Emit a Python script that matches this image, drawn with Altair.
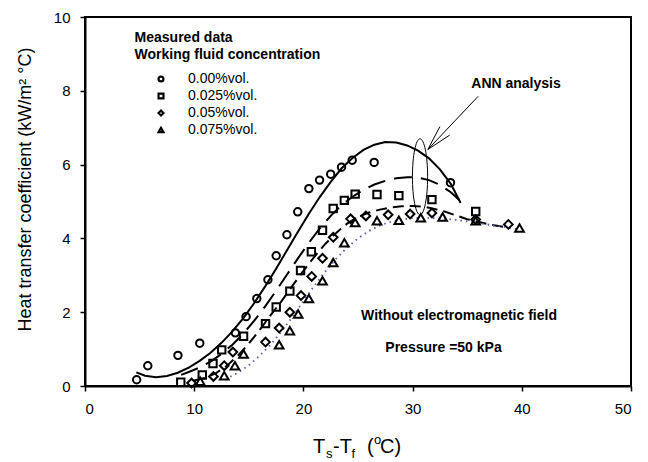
import altair as alt
import pandas as pd

FONT = "Liberation Sans"

# ---------------- measured data ----------------
series_names = ["0.00%vol.", "0.025%vol.", "0.05%vol.", "0.075%vol."]

c0_x = [4.73, 5.75, 8.51, 10.51, 13.77, 14.75, 15.73, 16.75, 17.51, 18.49, 19.48, 20.50, 21.48, 22.50, 23.49, 24.47, 26.48, 33.47]
c0_y = [0.17, 0.55, 0.83, 1.16, 1.44, 1.88, 2.37, 2.88, 3.53, 4.10, 4.72, 5.35, 5.58, 5.74, 5.93, 6.12, 6.06, 5.51]

c1_x = [8.77, 10.74, 11.72, 12.52, 14.52, 16.53, 17.51, 18.76, 19.74, 20.73, 21.75, 22.73, 23.75, 24.74, 26.74, 28.74, 31.77, 35.78]
c1_y = [0.10, 0.30, 0.61, 0.98, 1.35, 1.69, 2.14, 2.57, 3.13, 3.64, 4.22, 4.81, 5.03, 5.20, 5.19, 5.16, 5.05, 4.73]

c2_x = [9.76, 11.76, 12.75, 13.54, 16.53, 17.78, 18.76, 19.78, 20.76, 21.75, 22.73, 24.32, 25.72, 27.76, 29.77, 31.77, 35.78, 38.77]
c2_y = [0.08, 0.26, 0.55, 0.92, 1.19, 1.57, 2.00, 2.45, 2.97, 3.46, 4.03, 4.53, 4.61, 4.64, 4.66, 4.69, 4.51, 4.38]

c3_x = [10.55, 12.75, 13.73, 14.52, 17.78, 18.76, 19.52, 20.50, 21.75, 22.73, 23.75, 24.74, 26.74, 28.74, 30.75, 32.75, 35.78, 39.79]
c3_y = [0.13, 0.28, 0.55, 0.87, 1.12, 1.50, 1.95, 2.37, 2.85, 3.35, 3.88, 4.43, 4.48, 4.49, 4.56, 4.58, 4.48, 4.28]

# ---------------- ANN curves ----------------
a0_x = [4.7, 5.5, 6.5, 7.5, 8.5, 9.5, 10.5, 11.5, 12.5, 13.5, 14.5, 15.5, 16.5, 17.5, 18.5, 19.5, 20.5, 21.5, 22.5, 23.5, 24.5, 25.5, 26.5, 27.5, 28.5, 29.5, 30.5, 31.5, 32.5, 33.5, 34.4]
a0_y = [0.37, 0.28, 0.24, 0.27, 0.36, 0.50, 0.68, 0.90, 1.17, 1.48, 1.84, 2.25, 2.70, 3.18, 3.68, 4.18, 4.67, 5.12, 5.53, 5.90, 6.18, 6.40, 6.54, 6.61, 6.60, 6.52, 6.38, 6.17, 5.87, 5.48, 4.96]

a1_x = [8.8, 9.5, 10.5, 11.5, 12.5, 13.5, 14.5, 15.5, 16.5, 17.5, 18.5, 19.5, 20.5, 21.5, 22.5, 23.5, 24.5, 25.5, 26.5, 27.5, 28.5, 29.5, 30.5, 31.5, 32.5, 33.5, 34.5]
a1_y = [0.30, 0.38, 0.50, 0.66, 0.87, 1.12, 1.42, 1.77, 2.16, 2.58, 3.02, 3.46, 3.88, 4.27, 4.61, 4.90, 5.13, 5.32, 5.46, 5.56, 5.63, 5.66, 5.65, 5.58, 5.45, 5.25, 4.98]

a2_x = [10.0, 11.0, 12.0, 13.0, 14.0, 15.0, 16.0, 17.0, 18.0, 19.0, 20.0, 21.0, 22.0, 23.0, 24.0, 25.0, 26.0, 27.0, 28.0, 29.0, 30.0, 31.0, 32.0, 33.0, 34.0, 35.0, 36.0, 37.0, 38.0, 38.5]
a2_y = [0.15, 0.22, 0.35, 0.55, 0.82, 1.15, 1.52, 1.92, 2.30, 2.72, 3.12, 3.50, 3.85, 4.15, 4.40, 4.58, 4.70, 4.78, 4.84, 4.87, 4.88, 4.86, 4.80, 4.72, 4.62, 4.52, 4.45, 4.38, 4.33, 4.30]

a3_x = [13.3, 14.0, 15.0, 16.0, 17.0, 18.0, 19.0, 20.0, 21.0, 22.0, 23.0, 24.0, 25.0, 26.0, 27.0, 28.0, 29.0, 30.0, 31.0, 32.0, 33.0, 34.0, 35.0, 36.0, 37.0, 38.0, 39.0, 39.8]
a3_y = [0.25, 0.36, 0.56, 0.82, 1.12, 1.48, 1.88, 2.30, 2.72, 3.10, 3.45, 3.75, 4.00, 4.20, 4.35, 4.45, 4.51, 4.55, 4.56, 4.55, 4.53, 4.50, 4.46, 4.42, 4.37, 4.33, 4.28, 4.24]

# ---------------- annotation geometry (data units) ----------------
ellipse_x = [30.68]
ellipse_y = [5.67]
arrow_x1 = [36.0, 31.4, 31.4]
arrow_y1 = [7.85, 6.41, 6.41]
arrow_x2 = [31.4, 32.5, 33.4]
arrow_y2 = [6.41, 7.03, 6.80]

# ---------------- build tables ----------------
pts = pd.concat([
    pd.DataFrame({"x": c0_x, "y": c0_y, "s": series_names[0]}),
    pd.DataFrame({"x": c1_x, "y": c1_y, "s": series_names[1]}),
    pd.DataFrame({"x": c2_x, "y": c2_y, "s": series_names[2]}),
    pd.DataFrame({"x": c3_x, "y": c3_y, "s": series_names[3]}),
], ignore_index=True)

xs = alt.Scale(domain=[0, 50], nice=False)
ys = alt.Scale(domain=[0, 10], nice=False)

X = alt.X("x:Q", scale=xs, axis=alt.Axis(
    values=[0, 10, 20, 30, 40, 50], title=None, grid=False,
    labelFontSize=15, labelFont=FONT, labelColor="black", labelPadding=10,
    tickSize=5, tickColor="black", tickWidth=1.5,
    domainColor="black", domainWidth=2))
Y = alt.Y("y:Q", scale=ys, axis=alt.Axis(
    values=[0, 2, 4, 6, 8, 10], grid=False,
    title="Heat transfer coefficient (kW/m² °C)",
    titleFont=FONT, titleFontSize=18, titleFontWeight="normal", titleColor="black",
    titleX=-60, titleY=172, titleAlign="center", titleBaseline="middle", titleAngle=270,
    labelFontSize=15, labelFont=FONT, labelColor="black", labelPadding=10,
    tickSize=5, tickColor="black", tickWidth=1.5,
    domainColor="black", domainWidth=2))


def curve(xv, yv, dash, color="black", width=2):
    df = pd.DataFrame({"x": xv, "y": yv})
    kw = dict(color=color, strokeWidth=width)
    if dash:
        kw["strokeDash"] = dash
    return alt.Chart(df).mark_line(**kw).encode(x=X, y=Y)


lines = [
    curve(a0_x, a0_y, None),
    curve(a1_x, a1_y, [18, 9]),
    curve(a2_x, a2_y, [11, 6]),
    curve(a3_x, a3_y, [1.5, 4], color="#5a5aa8", width=1.8),
]

shape_enc = alt.Shape(
    "s:N", sort=series_names,
    scale=alt.Scale(domain=series_names, range=["circle", "square", "diamond", "triangle-up"]),
    legend=alt.Legend(title=None, orient="none", legendX=69, legendY=55,
                      labelFont=FONT, labelFontSize=14, labelColor="black",
                      symbolSize=24, symbolStrokeWidth=2.2, symbolStrokeColor="black",
                      symbolFillColor="white", labelOffset=20, rowPadding=3, padding=0,
                      labelLimit=200))

base_pts = alt.Chart(pts)
points_a = base_pts.transform_filter(
    alt.FieldOneOfPredicate(field="s", oneOf=series_names[:2])
).mark_point(filled=False, color="black", strokeWidth=2, size=55, opacity=1).encode(x=X, y=Y, shape=shape_enc)
points_b = base_pts.transform_filter(
    alt.FieldOneOfPredicate(field="s", oneOf=series_names[2:])
).mark_point(filled=False, color="black", strokeWidth=2, size=75, opacity=1).encode(x=X, y=Y, shape=shape_enc)

ellipse = alt.Chart(pd.DataFrame({"x": ellipse_x, "y": ellipse_y})).mark_point(
    shape="M0,-1 A0.2,1 0 1,1 0,1 A0.2,1 0 1,1 0,-1 Z",
    size=5776, filled=False, color="black", strokeWidth=1, opacity=1,
).encode(x=X, y=Y)

arrow = alt.Chart(pd.DataFrame({"x": arrow_x1, "y": arrow_y1, "x2": arrow_x2, "y2": arrow_y2})).mark_rule(
    color="black", strokeWidth=1).encode(x=X, y=Y, x2="x2:Q", y2="y2:Q")


def label(txt, x, y, size=14, weight="bold", align="center", baseline="middle"):
    return alt.Chart(pd.DataFrame({"t": [txt]})).mark_text(
        font=FONT, fontSize=size, fontWeight=weight, color="black", align=align, baseline=baseline
    ).encode(x=alt.value(x), y=alt.value(y), text="t:N")


texts = [
    label("Measured data", 49.6, 21, align="left"),
    label("Working fluid concentration", 49.6, 38, align="left"),
    label("ANN analysis", 431, 67),
    label("Without electromagnetic field", 374, 299),
    label("Pressure =50 kPa", 358.5, 331),
    # x-axis title with sub/superscripts
    label("T", 228, 436, size=20, weight="normal", align="left", baseline="alphabetic"),
    label("s", 241, 441, size=13, weight="normal", align="left", baseline="alphabetic"),
    label("-T", 248, 436, size=20, weight="normal", align="left", baseline="alphabetic"),
    label("f", 266.5, 441, size=13, weight="normal", align="left", baseline="alphabetic"),
    label("(", 282, 436, size=20, weight="normal", align="left", baseline="alphabetic"),
    label("o", 289, 426.5, size=13, weight="normal", align="left", baseline="alphabetic"),
    label("C)", 295, 436, size=20, weight="normal", align="left", baseline="alphabetic"),
]

chart = alt.layer(*lines, points_a, points_b, ellipse, arrow, *texts).properties(
    width=546, height=369,
    autosize=alt.AutoSizeParams(type="none"),
    padding={"left": 85, "top": 17, "right": 17, "bottom": 76},
    background="white",
).configure_view(stroke="black", strokeWidth=2)

chart.save("out.html", embed_options={"renderer": "svg", "actions": False})
